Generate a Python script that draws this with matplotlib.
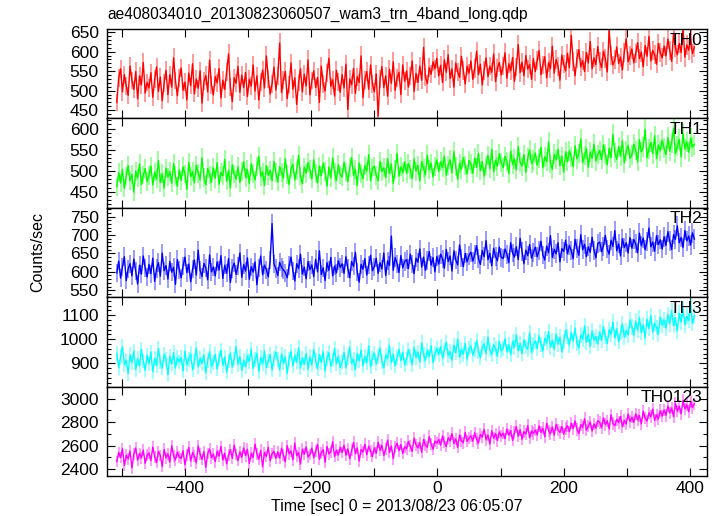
import numpy as np
import matplotlib
matplotlib.use("Agg")
import matplotlib.pyplot as plt
from matplotlib.ticker import MultipleLocator, FuncFormatter

plt.rcParams['font.family'] = ['Liberation Sans', 'DejaVu Sans']

title = "ae408034010_20130823060507_wam3_trn_4band_long.qdp"
xlabel = "Time [sec] 0 = 2013/08/23 06:05:07"
ylabel = "Counts/sec"

t_start = -508
t_step = 3

th0 = [470, 532, 556, 497, 541, 512, 488, 563, 526, 503, 549, 479, 538, 515, 572, 494, 521,
       507, 546, 483, 529, 561, 498, 535, 474, 519, 552, 490, 541, 509, 584, 526, 487, 533,
       558, 501, 522, 476, 545, 513, 569, 492, 530, 506, 551, 468, 524, 539, 497, 578, 515,
       489, 536, 520, 557, 481, 527, 503, 548, 594, 510, 472, 533, 519, 562, 496, 540, 508,
       547, 485, 529, 512, 566, 499, 538, 476, 523, 553, 507, 589, 531, 491, 518, 560, 502,
       537, 622, 495, 528, 549, 480, 516, 571, 504, 533, 465, 521, 556, 497, 542, 512, 579,
       489, 526, 551, 508, 534, 470, 563, 517, 499, 545, 583, 511, 528, 486, 552, 523, 496,
       541, 507, 568, 452, 530, 515, 557, 493, 536, 521, 589, 482, 527, 549, 504, 566, 518,
       497, 543, 435, 529, 562, 508, 538, 486, 555, 519, 574, 501, 533, 547, 490, 566, 524,
       551, 509, 537, 576, 498, 544, 521, 563, 527, 611, 535, 518, 559, 542, 574, 556, 583,
       538, 565, 521, 579, 547, 592, 531, 556, 509, 571, 548, 534, 588, 552, 517, 563, 545,
       576, 529, 557, 601, 541, 568, 515, 552, 584, 536, 563, 547, 594, 523, 558, 572, 540,
       563, 597, 532, 569, 551, 585, 524, 561, 618, 546, 573, 538, 590, 555, 567, 529, 582,
       549, 578, 603, 541, 566, 587, 533, 572, 556, 614, 545, 580, 562, 527, 591, 568, 551,
       596, 559, 642, 574, 538, 583, 605, 561, 577, 549, 598, 571, 626, 556, 584, 567, 613,
       575, 559, 601, 583, 548, 655, 591, 566, 579, 612, 570, 586, 553, 598, 633, 574, 589,
       607, 571, 594, 623, 582, 599, 561, 616, 588, 639, 576, 603, 592, 568, 621, 597, 584,
       614, 589, 632, 603, 575, 647, 610, 592, 621, 598, 658, 586, 617, 604, 633, 595, 612]

th1 = [462, 495, 471, 503, 458, 487, 512, 476, 491, 449, 499, 483, 516, 467, 490, 505, 474,
       489, 511, 466, 497, 480, 524, 472, 493, 459, 506, 485, 498, 470, 517, 488, 463, 502,
       477, 509, 492, 456, 520, 486, 498, 471, 513, 494, 478, 531, 484, 467, 505, 490, 473,
       507, 482, 519, 468, 496, 488, 527, 475, 501, 459, 514, 492, 480, 509, 472, 498, 521,
       484, 503, 470, 516, 493, 478, 509, 534, 486, 497, 465, 512, 489, 501, 476, 522, 495,
       473, 510, 496, 482, 528, 491, 467, 505, 515, 478, 500, 536, 487, 469, 508, 494, 519,
       502, 480, 526, 493, 471, 511, 488, 517, 499, 463, 509, 483, 530, 495, 477, 514, 490,
       485, 520, 497, 474, 507, 531, 489, 503, 465, 518, 494, 481, 512, 499, 538, 476, 505,
       511, 489, 476, 522, 498, 507, 484, 529, 493, 516, 470, 503, 541, 487, 509, 495, 521,
       494, 517, 503, 481, 528, 499, 513, 476, 522, 506, 490, 537, 502, 518, 485, 510, 526,
       498, 521, 507, 534, 489, 513, 526, 495, 545, 509, 480, 518, 503, 531, 512, 492, 524,
       516, 494, 530, 508, 541, 500, 522, 487, 513, 536, 505, 551, 498, 525, 511, 540, 519,
       507, 534, 521, 493, 546, 515, 528, 502, 557, 520, 511, 538, 496, 530, 549, 517, 525,
       542, 513, 529, 556, 507, 533, 521, 568, 518, 503, 539, 526, 551, 512, 534, 497, 545,
       521, 547, 533, 510, 559, 528, 541, 575, 519, 536, 552, 508, 544, 529, 563, 523, 538,
       548, 526, 561, 539, 514, 553, 531, 586, 542, 527, 557, 535, 571, 518, 546, 560, 529,
       537, 563, 548, 521, 574, 545, 556, 598, 531, 552, 567, 540, 583, 529, 561, 547, 572,
       553, 538, 579, 546, 566, 601, 541, 558, 574, 533, 589, 551, 568, 544, 577, 556, 562]

th2 = [597, 629, 583, 614, 641, 576, 608, 622, 589, 635, 601, 567, 618, 594, 643, 611, 586,
       620, 595, 637, 574, 609, 625, 588, 651, 603, 617, 580, 628, 599, 612, 566, 633, 606,
       584, 616, 640, 598, 621, 573, 607, 632, 591, 659, 604, 587, 623, 611, 578, 646, 600,
       613, 589, 627, 605, 644, 582, 618, 596, 636, 571, 609, 624, 593, 615, 651, 585, 620,
       602, 638, 580, 614, 599, 627, 565, 610, 643, 592, 618, 606, 586, 632, 731, 621, 609,
       590, 626, 612, 605, 598, 584, 617, 640, 603, 575, 622, 609, 648, 594, 613, 581, 628,
       606, 619, 587, 634, 600, 657, 593, 611, 576, 625, 604, 639, 589, 616, 597, 630, 612,
       622, 596, 641, 609, 584, 628, 615, 653, 599, 572, 620, 607, 636, 591, 618, 645, 603,
       614, 637, 596, 625, 608, 651, 590, 630, 617, 697, 604, 639, 622, 598, 644, 611, 628,
       633, 609, 648, 621, 595, 637, 626, 662, 613, 640, 604, 631, 655, 618, 639, 600, 642,
       621, 648, 635, 610, 661, 628, 643, 602, 657, 632, 619, 673, 638, 614, 650, 627, 645,
       653, 629, 647, 671, 636, 620, 658, 641, 685, 633, 650, 616, 664, 642, 630, 667, 639,
       636, 662, 648, 625, 679, 651, 640, 668, 633, 691, 655, 622, 659, 644, 674, 637, 653,
       667, 641, 658, 683, 646, 632, 670, 652, 698, 639, 661, 649, 679, 627, 663, 655, 686,
       649, 672, 657, 636, 688, 663, 645, 701, 660, 675, 641, 668, 653, 694, 659, 638, 677,
       681, 655, 670, 699, 662, 648, 686, 669, 712, 657, 676, 643, 690, 666, 679, 651, 693,
       664, 688, 676, 652, 705, 671, 692, 660, 683, 719, 668, 681, 656, 698, 674, 687, 662,
       695, 672, 709, 684, 661, 701, 688, 725, 679, 693, 666, 712, 684, 697, 673, 706, 689]

th3 = [941, 882, 927, 968, 895, 913, 857, 936, 902, 951, 874, 920, 889, 958, 909, 871, 933,
       898, 947, 865, 921, 890, 962, 905, 879, 938, 916, 852, 929, 897, 944, 881, 923, 906,
       925, 868, 951, 893, 916, 940, 873, 907, 963, 885, 921, 899, 934, 860, 912, 948, 887,
       904, 937, 876, 919, 955, 891, 926, 863, 909, 943, 884, 917, 970, 895, 928, 870, 913,
       886, 931, 907, 958, 878, 915, 942, 866, 924, 898, 951, 883, 910, 936, 871, 920, 946,
       915, 872, 939, 901, 927, 858, 918, 949, 889, 933, 905, 964, 880, 922, 896, 941, 874,
       928, 893, 957, 911, 877, 936, 903, 949, 869, 920, 944, 888, 914, 961, 897, 930, 882,
       905, 946, 881, 925, 967, 899, 918, 873, 941, 910, 955, 890, 928, 903, 972, 885, 921,
       943, 896, 927, 964, 908, 881, 935, 919, 975, 902, 938, 889, 924, 958, 911, 946, 893,
       918, 957, 931, 894, 966, 924, 947, 905, 985, 936, 912, 954, 928, 973, 903, 941, 962,
       937, 969, 921, 955, 988, 931, 949, 912, 976, 943, 1001, 926, 958, 938, 983, 917, 961,
       972, 934, 958, 995, 947, 923, 966, 981, 940, 1009, 955, 936, 978, 962, 929, 991, 951,
       963, 1002, 948, 977, 935, 991, 966, 1018, 952, 983, 940, 997, 971, 958, 1026, 944, 979,
       993, 961, 1015, 978, 951, 1004, 985, 1032, 967, 996, 958, 1021, 980, 1009, 947, 989, 1038,
       1011, 975, 1029, 992, 1046, 983, 964, 1018, 1001, 1055, 987, 1022, 970, 1035, 996, 1012, 981,
       1030, 996, 1052, 1011, 983, 1039, 1020, 1071, 1005, 1044, 990, 1027, 1063, 1009, 1036, 1018, 1080,
       1052, 1017, 1075, 1036, 1089, 1028, 1061, 1006, 1083, 1045, 1098, 1030, 1067, 1049, 1021, 1092, 1058,
       1081, 1046, 1103, 1064, 1119, 1057, 1090, 1035, 1108, 1072, 1127, 1060, 1095, 1078, 1140, 1066, 1098]

th0123 = [2463, 2541, 2498, 2572, 2430, 2517, 2486, 2553, 2409, 2526, 2579, 2474, 2532, 2495, 2561, 2448, 2519,
          2537, 2472, 2588, 2503, 2454, 2549, 2516, 2421, 2567, 2495, 2530, 2458, 2598, 2511, 2477, 2544, 2502,
          2489, 2556, 2435, 2521, 2584, 2467, 2540, 2508, 2452, 2597, 2525, 2481, 2549, 2414, 2532, 2570, 2496,
          2528, 2462, 2551, 2509, 2592, 2476, 2535, 2443, 2519, 2566, 2490, 2603, 2524, 2471, 2547, 2501, 2580,
          2513, 2568, 2447, 2534, 2497, 2612, 2526, 2483, 2559, 2419, 2541, 2507, 2585, 2470, 2532, 2551, 2489,
          2546, 2492, 2577, 2518, 2461, 2599, 2530, 2554, 2479, 2621, 2513, 2540, 2442, 2567, 2525, 2588, 2501,
          2523, 2578, 2496, 2551, 2610, 2484, 2538, 2565, 2457, 2592, 2529, 2547, 2633, 2506, 2560, 2518, 2584,
          2541, 2603, 2517, 2572, 2488, 2559, 2626, 2531, 2580, 2468, 2566, 2545, 2611, 2522, 2594, 2553, 2506,
          2581, 2534, 2628, 2559, 2602, 2514, 2573, 2647, 2541, 2596, 2488, 2587, 2619, 2556, 2609, 2532, 2590,
          2572, 2635, 2594, 2551, 2663, 2607, 2580, 2624, 2542, 2651, 2603, 2586, 2677, 2612, 2569, 2638, 2621,
          2653, 2604, 2681, 2627, 2592, 2666, 2639, 2702, 2618, 2657, 2584, 2690, 2641, 2623, 2712, 2635, 2664,
          2682, 2637, 2709, 2654, 2621, 2695, 2671, 2738, 2648, 2690, 2612, 2726, 2661, 2701, 2643, 2717, 2679,
          2706, 2658, 2741, 2689, 2727, 2644, 2711, 2762, 2680, 2735, 2653, 2719, 2698, 2771, 2666, 2724, 2702,
          2733, 2691, 2768, 2712, 2747, 2675, 2790, 2726, 2702, 2759, 2688, 2781, 2734, 2711, 2763, 2697, 2745,
          2769, 2718, 2791, 2744, 2810, 2736, 2702, 2778, 2755, 2829, 2731, 2766, 2801, 2723, 2784, 2749, 2812,
          2798, 2752, 2836, 2779, 2811, 2741, 2862, 2787, 2769, 2824, 2796, 2848, 2761, 2815, 2783, 2870, 2804,
          2842, 2797, 2871, 2819, 2856, 2784, 2893, 2833, 2808, 2879, 2846, 2912, 2815, 2861, 2828, 2897, 2851,
          2903, 2858, 2937, 2879, 2921, 2846, 2962, 2894, 2935, 2871, 2984, 2913, 2948, 2889, 2971, 2927, 2955]

series = [th0, th1, th2, th3, th0123]
names = ["TH0", "TH1", "TH2", "TH3", "TH0123"]
colors = ["#ff0000", "#00ff00", "#0000ff", "#00ffff", "#ff00ff"]
ylims = [(429, 658), (412, 624), (531, 774), (803, 1175), (2340, 3103)]
majors = [50, 50, 50, 100, 200]
minors = [10, 10, 10, 20, 100]

fig = plt.figure(figsize=(7.2, 5.16), dpi=100)
left, right = 107 / 720, 707 / 720
top, bottom = 1 - 29 / 516, 1 - 476 / 516
h = (top - bottom) / 5


def xfmt(v, pos):
    iv = int(round(v))
    if iv % 200 == 0:
        return "\u2212%d" % (-iv) if iv < 0 else "%d" % iv
    return ""


axes = []
for k in range(5):
    ax = fig.add_axes([left, top - (k + 1) * h, right - left, h])
    axes.append(ax)
    vals = np.array(series[k], dtype=float)
    t = t_start + t_step * np.arange(len(vals))
    c = colors[k]
    ax.errorbar(t, vals, yerr=np.sqrt(vals), fmt='none',
                ecolor=matplotlib.colors.to_rgba(c, 0.5), elinewidth=1.1,
                capsize=0)
    ax.plot(t, vals, '-', color=c, lw=1.0)
    ax.set_xlim(-523.5, 427)
    ax.set_ylim(*ylims[k])
    ax.xaxis.set_major_locator(MultipleLocator(100))
    ax.xaxis.set_major_formatter(FuncFormatter(xfmt))
    ax.yaxis.set_major_locator(MultipleLocator(majors[k]))
    ax.yaxis.set_minor_locator(MultipleLocator(minors[k]))
    ax.tick_params(which='both', direction='in', top=True, right=True,
                   labelsize=12.5, width=0.8)
    ax.tick_params(which='major', length=6)
    ax.tick_params(which='minor', length=3)
    ax.tick_params(axis='y', pad=6)
    for s in ax.spines.values():
        s.set_linewidth(1.0)
    if k < 4:
        ax.tick_params(labelbottom=False)
    ax.text(0.993, 0.96, names[k], transform=ax.transAxes, ha='right',
            va='top', fontsize=12.5)

fig.text(397 / 720, 1 - 507 / 516, xlabel, ha='center', va='center', fontsize=11.5)
fig.text(38 / 720, (top + bottom) / 2, ylabel, rotation=90, ha='center',
         va='center', fontsize=11.5)
fig.text(left, 1 - 14 / 516, title, ha='left', va='center', fontsize=11.2)

fig.savefig("out.png", dpi=100)
